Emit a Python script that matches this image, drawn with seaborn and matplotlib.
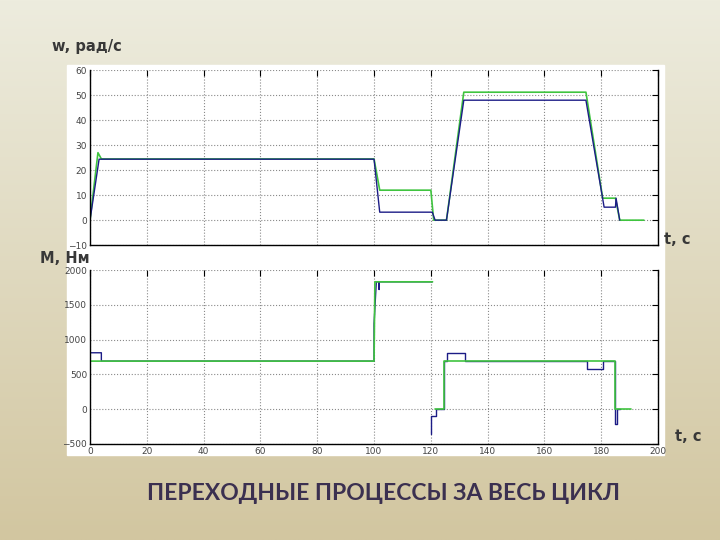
import numpy as np
import pandas as pd
import seaborn as sns
import matplotlib.pyplot as plt
from matplotlib.patches import Rectangle

# speed, rad/s (top panel)
w_blue_t = [0, 3.2, 100, 102, 120.5, 121.5, 125.5, 131.6, 174.6, 181, 185, 185.2, 186.5]
w_blue = [0, 24.4, 24.4, 3.2, 3.2, 0, 0, 48, 48, 5.2, 5.2, 8.8, 0]
w_green_t = [0, 2.8, 4, 100, 102, 120, 121, 125.5, 131.6, 174.6, 180.5, 185, 186.5, 195]
w_green = [0, 27, 24.5, 24.5, 12, 12, 0, 0, 51.2, 51.2, 8.8, 8.8, 0, 0]

# torque, Nm (bottom panel), segments split by seg id
m_blue_t = [0, 4, 4, 100, 100, 100.8, 101.8, 101.8, 101.8, 120.5,
            120.2, 120.2, 121.7, 121.7, 124.6, 124.6, 125.6, 125.6, 132, 132,
            175, 175, 180.6, 180.6, 185, 185, 185.6, 185.6, 186.5]
m_blue = [810, 810, 690, 690, 1225, 1830, 1830, 1720, 1830, 1830,
          -360, -100, -100, 0, 0, 690, 690, 810, 810, 690,
          690, 576, 576, 690, 690, -216, -216, 0, 0]
m_blue_seg = [0] * 10 + [1] * 19
m_green_t = [0, 100, 100.3, 120.6, 121.5, 124.6, 124.6, 185, 185, 190.5]
m_green = [690, 690, 1830, 1830, 0, 0, 690, 690, 0, 0]
m_green_seg = [0, 0, 0, 0, 1, 1, 1, 1, 1, 1]

x_ticks = list(range(0, 201, 20))
w_ticks = list(range(-10, 61, 10))
m_ticks = list(range(-500, 2001, 500))

sns.set_theme(style="white")
plt.rcParams['font.family'] = ['DejaVu Sans']

fig = plt.figure(figsize=(7.2, 5.4), dpi=100)

# slide background gradient
bg = fig.add_axes([0, 0, 1, 1], zorder=-10)
grad = np.linspace(0, 1, 256).reshape(-1, 1)
top_c = np.array([237, 236, 222]) / 255
bot_c = np.array([210, 198, 160]) / 255
img = top_c * (1 - grad[..., None]) + bot_c * grad[..., None]
img = np.repeat(img, 2, axis=1)
bg.imshow(img, aspect='auto', extent=[0, 1, 0, 1])
bg.axis('off')
bg.add_patch(Rectangle((0.093, 0.157), 0.829, 0.723, color='white', zorder=2))

ax1 = fig.add_axes([0.125, 0.546, 0.789, 0.324])
ax2 = fig.add_axes([0.125, 0.178, 0.789, 0.322])

blue = '#1c1c86'
green = '#3fc43f'

df_wg = pd.DataFrame({'t': w_green_t, 'v': w_green})
df_wb = pd.DataFrame({'t': w_blue_t, 'v': w_blue})
sns.lineplot(data=df_wg, x='t', y='v', sort=False, estimator=None, color=green, lw=1.2, ax=ax1)
sns.lineplot(data=df_wb, x='t', y='v', sort=False, estimator=None, color=blue, lw=1.0, ax=ax1)

df_mb = pd.DataFrame({'t': m_blue_t, 'v': m_blue, 'seg': m_blue_seg})
df_mg = pd.DataFrame({'t': m_green_t, 'v': m_green, 'seg': m_green_seg})
sns.lineplot(data=df_mb, x='t', y='v', units='seg', sort=False, estimator=None, color=blue, lw=1.0, ax=ax2)
sns.lineplot(data=df_mg, x='t', y='v', units='seg', sort=False, estimator=None, color=green, lw=1.2, ax=ax2)

for ax, yt in [(ax1, w_ticks), (ax2, m_ticks)]:
    ax.set_xlim(0, 200)
    ax.set_ylim(yt[0], yt[-1])
    ax.set_xticks(x_ticks)
    ax.set_yticks(yt)
    ax.set_xlabel('')
    ax.set_ylabel('')
    ax.grid(True, linestyle=':', color='#8a8a8a', lw=0.8)
    ax.tick_params(direction='in', length=4, width=0.8, colors='black',
                   labelsize=6.5, labelcolor='#444444', top=True, right=True,
                   pad=2)
    for side in ['left', 'bottom', 'right']:
        ax.spines[side].set_color('black')
        ax.spines[side].set_linewidth(1.0)
    ax.spines['top'].set_visible(False)
    ax.set_facecolor('white')

ax1.set_xticklabels([])

lab = dict(fontsize=10.5, fontweight='bold', color='#383838')
fig.text(0.072, 0.905, 'w, рад/с', **lab)
fig.text(0.055, 0.513, 'M, Нм', **lab)
fig.text(0.922, 0.548, 't, c', **lab)
fig.text(0.938, 0.183, 't, c', **lab)

fig.text(0.532, 0.087, 'ПЕРЕХОДНЫЕ ПРОЦЕССЫ ЗА ВЕСЬ ЦИКЛ', ha='center', va='center',
         fontsize=16.5, color='#3b3050', family=['Lato', 'DejaVu Sans'], fontweight='bold')

fig.savefig('out.png', dpi=100)
